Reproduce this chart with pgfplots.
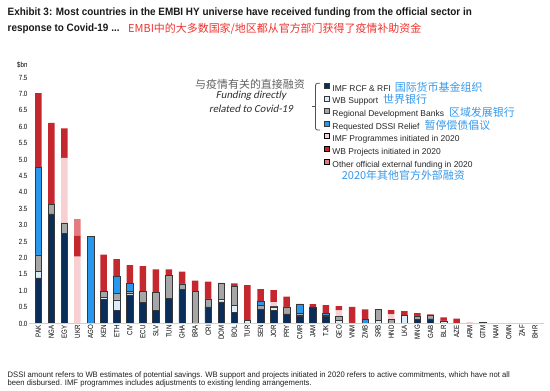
\documentclass[border=0pt]{standalone}
\usepackage{fontspec}
\usepackage{pgfplots}
\usepackage{pgfplotstable}
\pgfplotsset{compat=1.18}
\setmainfont{Liberation Sans}
\newfontfamily\narrowfont{Liberation Sans}[FakeStretch=0.82]
\newfontfamily\titlefont{Liberation Sans}[FakeStretch=0.93]
\newfontfamily\notefont{Liberation Sans}[FakeStretch=0.96]
\newfontfamily\cjk{Noto Sans CJK SC}
\newfontfamily\calit{Carlito}[FakeSlant=0.2]
\definecolor{cnavy}{RGB}{10,45,90}
\definecolor{cwb}{RGB}{218,238,250}
\definecolor{cgray}{RGB}{166,166,166}
\definecolor{cdssi}{RGB}{40,152,238}
\definecolor{cpink}{RGB}{246,208,211}
\definecolor{cred}{RGB}{196,40,46}
\definecolor{csalmon}{RGB}{226,124,128}
\definecolor{cnblue}{RGB}{52,152,235}
\definecolor{cnred}{RGB}{238,50,45}
\definecolor{outl}{RGB}{55,55,55}
\definecolor{brk}{RGB}{70,85,100}

\pgfplotstableread{
x imf wb rdb dssi imfp wbp oth
0 1.39 0.20 0.50 2.67 0 2.26 0
1 3.34 0 0.29 0 0 2.49 0
2 2.75 0 0.32 0 1.98 0.90 0
3 0 0 0 0 2.04 0.63 0.51
4 0 0 0 2.65 0 0 0
5 0.74 0.06 0.19 0 0 1.11 0
6 0.41 0.31 0.20 0.51 0 0.53 0
7 0.87 0.05 0.05 0.26 0 0.55 0
8 0.65 0 0.34 0 0 0.76 0
9 0.40 0 0.55 0 0 0.70 0
10 0.76 0 0.70 0 0 0.19 0
11 1.03 0 0.18 0 0 0.37 0
12 0 0 0.99 0 0 0.32 0
13 0.51 0 0.24 0 0 0.53 0
14 0.66 0.07 0.51 0 0 0 0
15 0.33 0.23 0.58 0 0 0.08 0
16 0 0.09 0 0 0 1.08 0
17 0.43 0 0.12 0.13 0 0.37 0
18 0.40 0.11 0.02 0 0.12 0.37 0
19 0.29 0 0.22 0 0 0.31 0
20 0.22 0.04 0.06 0.28 0 0 0
21 0.51 0 0 0 0 0.08 0
22 0.22 0 0.04 0.06 0 0.24 0
23 0 0.09 0.13 0 0.18 0.13 0
24 0 0 0 0 0 0.51 0
25 0 0 0 0.13 0 0.30 0
26 0 0.10 0.33 0 0 0 0
27 0 0 0.12 0 0.16 0.13 0
28 0 0.25 0 0 0 0.13 0
29 0.13 0 0.10 0 0 0.09 0
30 0.14 0 0.12 0 0 0.02 0
31 0 0.08 0 0 0 0.11 0
32 0 0 0 0 0 0.15 0
33 0 0 0 0 0 0 0.03
34 0 0 0.04 0 0 0 0
35 0 0 0 0 0 0 0
36 0 0 0 0 0 0 0
37 0 0 0 0 0 0 0
38 0 0 0 0 0 0 0
}\data

\begin{document}
\begin{tikzpicture}
\useasboundingbox (0,0) rectangle (550bp,-391bp);
\begin{axis}[
  at={(29.1bp,-323.5bp)}, anchor=south west,
  scale only axis, width=515.1bp, height=246bp,
  xmin=-0.7, xmax=38.7, ymin=0, ymax=7.5,
  ybar stacked, bar width=6.5bp,
  axis on top,
  axis x line*=bottom, axis y line*=left,
  x axis line style={draw=black!18, line width=1.3bp},
  y axis line style={draw=none},
  major tick length=0pt,
  xtick={0,...,38},
  xticklabels={PAK,NGA,EGY,UKR,AGO,KEN,ETH,CIV,ECU,SLV,TUN,GHA,BRA,CRI,DOM,BOL,TUR,SEN,JOR,PRY,CMR,JAM,TJK,GEO,VNM,ZMB,SRB,HND,LKA,MNG,GAB,BLR,AZE,ARM,GTM,NAM,OMN,ZAF,BHR},
  x tick label style={rotate=90, anchor=east, inner sep=1.5bp, font=\narrowfont\fontsize{7.5}{8}\selectfont},
  ytick={0,0.5,1,1.5,2,2.5,3,3.5,4,4.5,5,5.5,6,6.5,7,7.5},
  /pgf/number format/assume math mode=true,
  yticklabel style={/pgf/number format/fixed, /pgf/number format/fixed zerofill, /pgf/number format/precision=1, font=\narrowfont\fontsize{7.5}{8}\selectfont, inner sep=1.5bp},
  legend style={at={(axis description cs:0.5725,0.979)}, anchor=north west, draw=none, fill=none, inner sep=0pt, row sep=2.4bp, column sep=1.4bp, font=\fontsize{8.5}{9}\selectfont, text=black!85, nodes={inner xsep=1.4bp, inner ysep=0pt, text height=7bp, text depth=2bp}},
  legend cell align=left,
  legend image code/.code={\draw[#1, line width=0.5bp] (0bp,0.5bp) rectangle (5bp,5.5bp);},
]
\addplot[fill=cnavy, draw=outl, line width=0.5bp] table[x=x,y=imf]{\data};
\addlegendentry{IMF RCF \& RFI\hspace{4bp}{\cjk\fontsize{11}{11}\selectfont\color{cnblue}国际货币基金组织}}
\addplot[fill=cwb, draw=outl, line width=0.5bp] table[x=x,y=wb]{\data};
\addlegendentry{WB Support\hspace{5bp}{\cjk\fontsize{11}{11}\selectfont\color{cnblue}世界银行}}
\addplot[fill=cgray, draw=outl, line width=0.5bp] table[x=x,y=rdb]{\data};
\addlegendentry{Regional Development Banks\hspace{5bp}{\cjk\fontsize{11}{11}\selectfont\color{cnblue}区域发展银行}}
\addplot[fill=cdssi, draw=outl, line width=0.5bp] table[x=x,y=dssi]{\data};
\addlegendentry{Requested DSSI Relief\hspace{5bp}{\cjk\fontsize{11}{11}\selectfont\color{cnblue}暂停偿债倡议}}
\addplot[fill=cpink, draw=none] table[x=x,y=imfp]{\data};
\addlegendentry{IMF Programmes initiated in 2020}
\addplot[fill=cred, draw=none] table[x=x,y=wbp]{\data};
\addlegendentry{WB Projects initiated in 2020}
\addplot[fill=csalmon, draw=none] table[x=x,y=oth]{\data};
\addlegendentry{Other official external funding in 2020}
\end{axis}
% texts around
\node[anchor=base west, inner sep=0pt, text=black!90] at (7.5bp,-15bp) {\titlefont\bfseries\fontsize{10.7}{12}\selectfont Exhibit 3: Most countries in the EMBI HY universe have received funding from the official sector in};
\node[anchor=base west, inner sep=0pt, text=black!90] at (7.5bp,-31bp) {\titlefont\bfseries\fontsize{10.7}{12}\selectfont response to Covid-19 ...};
\node[anchor=base west, inner sep=0pt, text=cnred] at (128bp,-32bp) {\cjk\fontsize{11}{12}\selectfont EMBI中的大多数国家/地区都从官方部门获得了疫情补助资金};
\node[anchor=west, inner sep=0pt] at (17bp,-65bp) {\narrowfont\fontsize{7.5}{8}\selectfont \$bn};
\node[anchor=center, inner sep=0pt, text=black!62] at (250bp,-84.5bp) {\cjk\fontsize{11}{12}\selectfont 与疫情有关的直接融资};
\node[anchor=center, align=center, inner sep=0pt, text=black!82, font=\calit\fontsize{10.8}{13.5}\selectfont] at (251bp,-102bp) {Funding directly\\related to Covid-19};
\draw[brk, line width=0.8bp, rounded corners=2bp] (320bp,-83.3bp) -- (315.5bp,-83.3bp) -- (315.5bp,-130bp) -- (320bp,-130bp);
\draw[brk, line width=0.8bp] (315.5bp,-106.7bp) -- (311.5bp,-106.7bp);
\node[anchor=west, inner sep=0pt, text=cnblue] at (341.7bp,-175.5bp) {\cjk\fontsize{11}{12}\selectfont 2020年其他官方外部融资};
\node[anchor=base west, inner sep=0pt, text=black!88] at (7.5bp,-377bp) {\notefont\fontsize{8}{9}\selectfont DSSI amount refers to WB estimates of potential savings. WB support and projects initiated in 2020 refers to active commitments, which have not all};
\node[anchor=base west, inner sep=0pt, text=black!88] at (7.5bp,-385.5bp) {\notefont\fontsize{8}{9}\selectfont been disbursed. IMF programmes includes adjustments to existing lending arrangements.};
\end{tikzpicture}
\end{document}
